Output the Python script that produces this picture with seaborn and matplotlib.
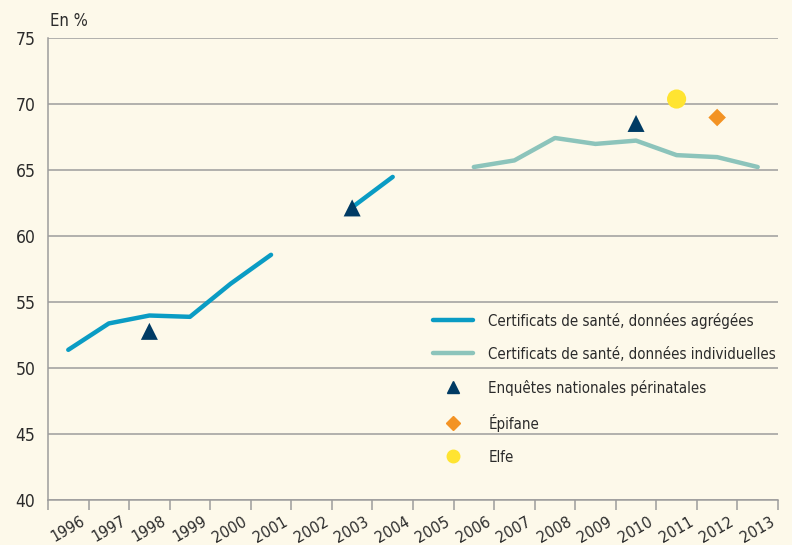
import matplotlib

matplotlib.use("Agg")
import matplotlib.pyplot as plt
import matplotlib.transforms as mtransforms
import numpy as np
import pandas as pd
import seaborn as sns
from matplotlib.lines import Line2D

YEARS = list(range(1996, 2014))

# Certificats de santé, données agrégées (gap in 2002)
agg_years = [1996, 1997, 1998, 1999, 2000, 2001, 2002, 2003, 2004]
agg_values = [51.4, 53.4, 54.0, 53.9, 56.4, 58.6, np.nan, 62.2, 64.5]

# Certificats de santé, données individuelles
ind_years = [2006, 2007, 2008, 2009, 2010, 2011, 2012, 2013]
ind_values = [65.25, 65.75, 67.45, 67.0, 67.25, 66.15, 66.0, 65.25]

enp_years = [1998, 2003, 2010]
enp_values = [52.8, 62.15, 68.55]

epifane_years = [2012]
epifane_values = [69.0]

elfe_years = [2011]
elfe_values = [70.4]

BG = "#fdf9ea"
GRID = "#9d9d9d"
BLUE = "#0a9cc4"
TEAL = "#8cc4bb"
NAVY = "#003b64"
ORANGE = "#f39324"
YELLOW = "#ffe431"
TEXT = "#2b2b2b"


def _pos(years):
    # data sits in the middle of each year slot
    return [y - YEARS[0] + 0.5 for y in years]


sns.set_theme(style="white")
plt.rcParams["font.family"] = ["DejaVu Sans"]
plt.rcParams["font.stretch"] = "condensed"

fig = plt.figure(figsize=(7.92, 5.45), dpi=100, facecolor=BG)
ax = fig.add_axes([0.0606, 0.082, 0.9217, 0.8477], facecolor=BG)

agg_df = pd.DataFrame({"x": _pos(agg_years), "y": agg_values})
ind_df = pd.DataFrame({"x": _pos(ind_years), "y": ind_values})

# draw the blue series in its two pieces so the gap stays open
for part in (agg_df.iloc[:6], agg_df.iloc[7:]):
    sns.lineplot(data=part, x="x", y="y", color=BLUE, linewidth=3.2, ax=ax,
                 solid_capstyle="round", zorder=3)
sns.lineplot(data=ind_df, x="x", y="y", color=TEAL, linewidth=3.2, ax=ax,
             solid_capstyle="round", zorder=3)

sns.scatterplot(x=_pos(enp_years), y=enp_values, marker="^", s=150, color=NAVY,
                edgecolor="none", ax=ax, zorder=4)
sns.scatterplot(x=_pos(epifane_years), y=epifane_values, marker="D", s=80, color=ORANGE,
                edgecolor="none", ax=ax, zorder=4)
sns.scatterplot(x=_pos(elfe_years), y=elfe_values, marker="o", s=190, color=YELLOW,
                edgecolor="none", ax=ax, zorder=4)

ax.set_xlim(0, len(YEARS))
ax.set_ylim(40, 75)
ax.set_yticks(range(40, 80, 5))
ax.yaxis.grid(True, color=GRID, linewidth=1.1)
ax.set_axisbelow(True)
ax.tick_params(axis="y", length=0, labelsize=12.5, pad=9, labelcolor=TEXT)

ax.set_xticks(range(0, len(YEARS) + 1))
ax.set_xticklabels([""] + [str(y) for y in YEARS])
ax.tick_params(axis="x", length=7, width=1.1, color=GRID, labelsize=11.5,
               labelcolor=TEXT, pad=2, direction="out", bottom=True)
shift = mtransforms.ScaledTranslation(-8.5 / 100, -1 / 100, fig.dpi_scale_trans)
for lab in ax.get_xticklabels():
    lab.set_rotation(30)
    lab.set_ha("right")
    lab.set_va("top")
    lab.set_rotation_mode("anchor")
    lab.set_transform(lab.get_transform() + shift)

for side in ("top", "right"):
    ax.spines[side].set_visible(False)
for side in ("left", "bottom"):
    ax.spines[side].set_color(GRID)
    ax.spines[side].set_linewidth(1.1)
ax.set_xlabel("")
ax.set_ylabel("")

fig.text(0.063, 0.961, "En %", fontsize=12, color=TEXT, va="center", ha="left")

handles = [
    Line2D([], [], color=BLUE, linewidth=3.2),
    Line2D([], [], color=TEAL, linewidth=3.2),
    Line2D([], [], color=NAVY, marker="^", linestyle="none", markersize=8),
    Line2D([], [], color=ORANGE, marker="D", linestyle="none", markersize=7),
    Line2D([], [], color=YELLOW, marker="o", linestyle="none", markersize=9),
]
labels = [
    "Certificats de santé, données agrégées",
    "Certificats de santé, données individuelles",
    "Enquêtes nationales périnatales",
    "Épifane",
    "Elfe",
]
ax.legend(handles, labels, loc="upper left", bbox_to_anchor=(0.528, 0.406),
          frameon=False, fontsize=10.8, handlelength=2.65, handletextpad=1.0,
          labelspacing=1.2, borderpad=0, borderaxespad=0, labelcolor=TEXT)

fig.savefig("out.png", dpi=100, facecolor=BG)
